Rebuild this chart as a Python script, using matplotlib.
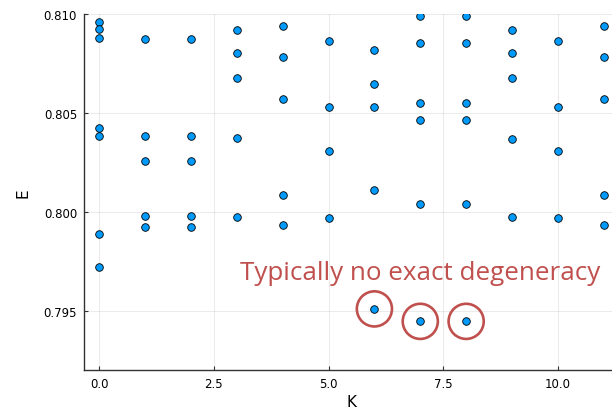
import matplotlib
matplotlib.use("Agg")
import matplotlib.pyplot as plt

# ── data ─────────────────────────────────────────────────────
K_vals = [0, 0, 0, 0, 0, 0, 0,
          1, 1, 1, 1, 1,
          2, 2, 2, 2, 2,
          3, 3, 3, 3, 3,
          4, 4, 4, 4, 4,
          5, 5, 5, 5,
          6, 6, 6, 6, 6,
          7, 7, 7, 7, 7, 7,
          8, 8, 8, 8, 8, 8,
          9, 9, 9, 9, 9,
          10, 10, 10, 10,
          11, 11, 11, 11, 11]
E_vals = [0.80961, 0.80923, 0.80879, 0.80426, 0.80385, 0.79890, 0.79719,
          0.80872, 0.80382, 0.80256, 0.79978, 0.79924,
          0.80872, 0.80382, 0.80256, 0.79978, 0.79924,
          0.80919, 0.80803, 0.80678, 0.80372, 0.79973,
          0.80939, 0.80781, 0.80571, 0.80087, 0.79933,
          0.80862, 0.80530, 0.80307, 0.79970,
          0.80818, 0.80646, 0.80530, 0.80111, 0.79509,
          0.80988, 0.80852, 0.80549, 0.80465, 0.80040, 0.79446,
          0.80988, 0.80852, 0.80549, 0.80465, 0.80040, 0.79446,
          0.80919, 0.80803, 0.80678, 0.80370, 0.79973,
          0.80862, 0.80530, 0.80307, 0.79970,
          0.80939, 0.80781, 0.80571, 0.80087, 0.79933]

# highlighted (non-degenerate) lowest states
circ_K = [6, 7, 8]
circ_E = [0.79509, 0.79446, 0.79446]

x_ticks = [0.0, 2.5, 5.0, 7.5, 10.0]
y_ticks = [0.795, 0.800, 0.805, 0.810]
note = "Typically no exact degeneracy"

BLUE = "#009AFA"
RED = "#C0504D"

fig = plt.figure(figsize=(6.12, 4.10), dpi=100)
ax = fig.add_axes([0.1373, 0.0951, 0.874, 0.8683])

ax.scatter(K_vals, E_vals, s=30, color=BLUE, edgecolor="black",
           linewidth=0.6, zorder=3, clip_on=True)
ax.scatter(circ_K, circ_E, s=640, facecolor="none", edgecolor=RED,
           linewidth=1.9, zorder=4)
ax.text(7.0, 0.7966, note, color=RED, fontsize=18.7, ha="center",
        va="baseline", family="Open Sans")

ax.set_xlim(-0.33, 11.33)
ax.set_ylim(0.792, 0.810)
ax.set_xticks(x_ticks)
ax.set_xticklabels([f"{t:.1f}" for t in x_ticks])
ax.set_yticks(y_ticks)
ax.set_yticklabels([f"{t:.3f}" for t in y_ticks])

ax.set_xlabel("K", fontsize=11, labelpad=3)
ax.set_ylabel("E", fontsize=11)
ax.yaxis.set_label_coords(-0.10, 0.5)

ax.grid(True, color="black", alpha=0.08, linewidth=0.8)
ax.set_axisbelow(True)
for side in ("top", "right"):
    ax.spines[side].set_visible(False)
for side in ("left", "bottom"):
    ax.spines[side].set_color("#333333")
    ax.spines[side].set_linewidth(1.0)
ax.tick_params(direction="in", length=3, width=0.8, labelsize=8.5,
               color="#333333", pad=5)

fig.savefig("out.png", dpi=100)
